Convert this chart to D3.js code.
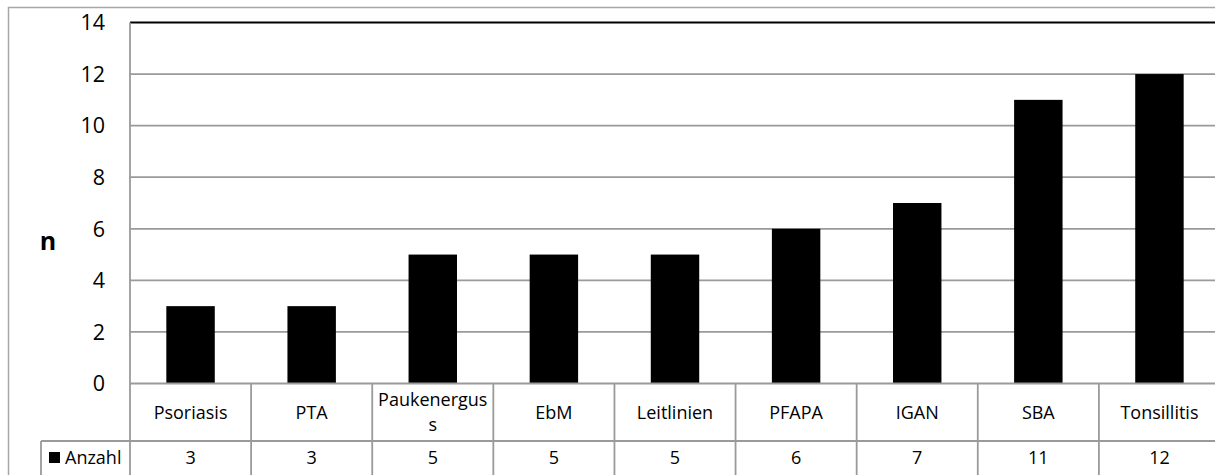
<!DOCTYPE html>
<html>
<head>
<meta charset="utf-8">
<script src="https://cdn.jsdelivr.net/npm/d3@7"></script>
<style>
  html, body { margin: 0; padding: 0; background: #fff; }
  svg { display: block; font-family: "Open Sans", "DejaVu Sans", sans-serif; }
</style>
</head>
<body>
<svg id="chart" width="1215" height="475"></svg>
<script>
// Anzahl der Nennungen je Thema
const categories = ["Psoriasis", "PTA", "Paukenerguss", "EbM", "Leitlinien", "PFAPA", "IGAN", "SBA", "Tonsillitis"];
const anzahl = [3, 3, 5, 5, 5, 6, 7, 11, 12];
const yTicks = [0, 2, 4, 6, 8, 10, 12, 14];
const seriesName = "Anzahl";
const yTitle = "n";

const svg = d3.select("#chart");
const gridColor = "#9a9a9a";

// plot area geometry
const plotLeft = 130, plotRight = 1220, plotTop = 22.5, plotBottom = 383.5;
const row1Bottom = 441, row2Bottom = 477, legendLeft = 41;

const x = d3.scaleBand().domain(categories).range([plotLeft, plotRight]).paddingInner(0).paddingOuter(0);
const y = d3.scaleLinear().domain([0, 14]).range([plotBottom, plotTop]);

// outer chart frame
svg.append("rect")
  .attr("x", 8.5).attr("y", 7.5)
  .attr("width", 1300).attr("height", 600)
  .attr("fill", "none").attr("stroke", "#a6a6a6").attr("stroke-width", 1.5);

// horizontal gridlines
svg.append("g").selectAll("line")
  .data(yTicks.filter(d => d > 0))
  .join("line")
  .attr("x1", plotLeft).attr("x2", 1215)
  .attr("y1", d => y(d)).attr("y2", d => y(d))
  .attr("stroke", d => d === 14 ? "#000" : gridColor)
  .attr("stroke-width", d => d === 14 ? 2.2 : 1.8);

// y tick labels
svg.append("g").selectAll("text")
  .data(yTicks)
  .join("text")
  .attr("x", 105).attr("y", d => y(d))
  .attr("dy", "0.36em")
  .attr("text-anchor", "end")
  .attr("font-size", 21.5)
  .attr("fill", "#000")
  .text(d => d);

// y axis title
svg.append("text")
  .attr("x", 48).attr("y", 241)
  .attr("dy", "0.36em")
  .attr("text-anchor", "middle")
  .attr("font-size", 25).attr("font-weight", "bold")
  .text(yTitle);

// bars
const barW = x.bandwidth() * 0.4;
svg.append("g").selectAll("rect")
  .data(categories.map((c, i) => ({ c, v: anzahl[i] })))
  .join("rect")
  .attr("x", d => x(d.c) + (x.bandwidth() - barW) / 2)
  .attr("y", d => y(d.v))
  .attr("width", barW)
  .attr("height", d => y(0) - y(d.v))
  .attr("fill", "#000");

// data table grid
const grid = svg.append("g").attr("stroke", gridColor).attr("stroke-width", 1.8);
grid.append("line").attr("x1", plotLeft).attr("x2", 1215).attr("y1", plotBottom).attr("y2", plotBottom);
grid.append("line").attr("x1", legendLeft).attr("x2", 1215).attr("y1", row1Bottom).attr("y2", row1Bottom);
grid.append("line").attr("x1", plotLeft).attr("x2", plotLeft).attr("y1", plotTop).attr("y2", row2Bottom);
grid.append("line").attr("x1", legendLeft).attr("x2", legendLeft).attr("y1", row1Bottom).attr("y2", row2Bottom);
grid.selectAll("line.col")
  .data(categories.slice(1))
  .join("line").attr("class", "col")
  .attr("x1", d => x(d)).attr("x2", d => x(d))
  .attr("y1", plotBottom).attr("y2", row2Bottom);

// category labels, wrapped by character to the cell width
const labelSize = 18;
const maxLabelW = x.bandwidth() - 8;
const catG = svg.append("g").attr("font-size", labelSize).attr("text-anchor", "middle");
categories.forEach(c => {
  const probe = catG.append("text").attr("visibility", "hidden");
  const lines = [];
  let cur = "";
  for (const ch of c) {
    probe.text(cur + ch);
    if (cur && probe.node().getComputedTextLength() > maxLabelW) {
      lines.push(cur);
      cur = ch;
    } else {
      cur += ch;
    }
  }
  lines.push(cur);
  probe.remove();
  const lh = 25;
  const cy = (plotBottom + row1Bottom) / 2;
  const t = catG.append("text")
    .attr("x", x(c) + x.bandwidth() / 2);
  lines.forEach((ln, i) => {
    t.append("tspan")
      .attr("x", x(c) + x.bandwidth() / 2)
      .attr("y", cy + (i - (lines.length - 1) / 2) * lh)
      .attr("dy", "0.36em")
      .text(ln);
  });
});

// value row
const rowMid = 458;
svg.append("g").attr("font-size", labelSize).attr("text-anchor", "middle")
  .selectAll("text")
  .data(categories.map((c, i) => ({ c, v: anzahl[i] })))
  .join("text")
  .attr("x", d => x(d.c) + x.bandwidth() / 2)
  .attr("y", rowMid)
  .attr("dy", "0.36em")
  .text(d => d.v);

// legend cell: key + series name
svg.append("rect")
  .attr("x", 49).attr("y", 452).attr("width", 11).attr("height", 11)
  .attr("fill", "#000");
svg.append("text")
  .attr("x", 65).attr("y", rowMid)
  .attr("dy", "0.36em")
  .attr("font-size", labelSize)
  .text(seriesName);
</script>
</body>
</html>
